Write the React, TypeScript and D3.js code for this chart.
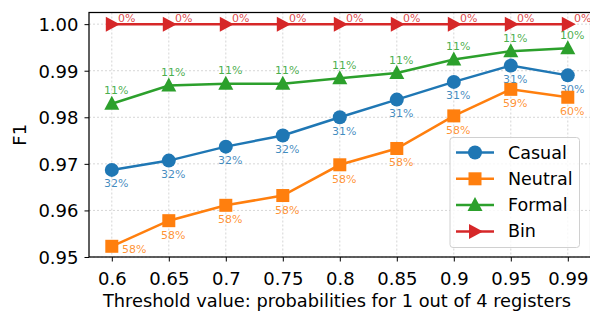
import { useEffect, useRef } from 'react';
import * as d3 from 'd3';

const thresholds = ['0.6', '0.65', '0.7', '0.75', '0.8', '0.85', '0.9', '0.95', '0.99'];
const casual = [0.9687, 0.9707, 0.9737, 0.9761, 0.98, 0.9838, 0.9876, 0.9911, 0.989];
const neutral = [0.9523, 0.9578, 0.9611, 0.9632, 0.9698, 0.9733, 0.9803, 0.986, 0.9843];
const formal = [0.9829, 0.9868, 0.9872, 0.9872, 0.9884, 0.9895, 0.9924, 0.9942, 0.9948];
const bin = [1.0, 1.0, 1.0, 1.0, 1.0, 1.0, 1.0, 1.0, 1.0];
const casualPct = ['32%', '32%', '32%', '32%', '31%', '31%', '31%', '31%', '30%'];
const neutralPct = ['58%', '58%', '58%', '58%', '58%', '58%', '58%', '59%', '60%'];
const formalPct = ['11%', '11%', '11%', '11%', '11%', '11%', '11%', '11%', '10%'];
const binPct = ['0%', '0%', '0%', '0%', '0%', '0%', '0%', '0%', '0%'];
const yTicks = [0.95, 0.96, 0.97, 0.98, 0.99, 1.0];

const series = [
  { name: 'Casual', values: casual, pct: casualPct, color: '#1f77b4', marker: 'circle', dx: 4.5, dy: 14 },
  { name: 'Neutral', values: neutral, pct: neutralPct, color: '#ff7f0e', marker: 'square', dx: 4.5, dy: 14.5 },
  { name: 'Formal', values: formal, pct: formalPct, color: '#2ca02c', marker: 'triangle', dx: 4.5, dy: -13 },
  { name: 'Bin', values: bin, pct: binPct, color: '#d62728', marker: 'right', dx: 15, dy: -6 },
];

function drawMarker(g: any, type: string, x: number, y: number, color: string) {
  if (type === 'circle') {
    g.append('circle').attr('cx', x).attr('cy', y).attr('r', 7).attr('fill', color);
  } else if (type === 'square') {
    g.append('rect').attr('x', x - 6.5).attr('y', y - 6.5).attr('width', 13).attr('height', 13).attr('fill', color);
  } else if (type === 'triangle') {
    g.append('path')
      .attr('d', `M${x},${y - 8} L${x + 7.5},${y + 6} L${x - 7.5},${y + 6} Z`)
      .attr('fill', color);
  } else {
    g.append('path')
      .attr('d', `M${x + 8},${y} L${x - 6},${y - 7.5} L${x - 6},${y + 7.5} Z`)
      .attr('fill', color);
  }
}

export default function App() {
  const svgRef = useRef<SVGSVGElement>(null);

  useEffect(() => {
    if (!svgRef.current) return;
    const svg = d3.select(svgRef.current);
    svg.selectAll('*').remove();

    const left = 89;
    const right = 590.6;
    const top = 12.5;
    const bottom = 257;
    const font = 'DejaVu Sans, sans-serif';

    const x = d3.scaleLinear().domain([-0.4, thresholds.length - 1 + 0.4]).range([left, right]);
    const y = d3.scaleLinear().domain([0.95, 1.0025]).range([bottom, top]);
    const idx = thresholds.map((_, i) => i);

    // grid
    const grid = svg.append('g');
    idx.forEach((i) => {
      grid.append('line')
        .attr('x1', x(i)).attr('x2', x(i)).attr('y1', top).attr('y2', bottom)
        .attr('stroke', '#cccccc').attr('stroke-width', 0.8).attr('stroke-dasharray', '2,2');
    });
    yTicks.forEach((t) => {
      grid.append('line')
        .attr('x1', left).attr('x2', right).attr('y1', y(t)).attr('y2', y(t))
        .attr('stroke', '#cccccc').attr('stroke-width', 0.8).attr('stroke-dasharray', '2,2');
    });

    // axes
    const xAxis = svg.append('g')
      .attr('transform', `translate(0,${bottom})`)
      .call(d3.axisBottom(x).tickValues(idx).tickFormat((d: any) => thresholds[d]).tickSize(4.5).tickSizeOuter(0));
    const yAxis = svg.append('g')
      .attr('transform', `translate(${left},0)`)
      .call(d3.axisLeft(y).tickValues(yTicks).tickFormat(d3.format('.2f')).tickSize(4.5).tickSizeOuter(0));
    [xAxis, yAxis].forEach((a) => {
      a.select('.domain').remove();
      a.selectAll('line').attr('stroke', '#000').attr('stroke-width', 1);
      a.selectAll('text').attr('font-family', font).attr('font-size', 18).attr('fill', '#000');
    });
    xAxis.selectAll('text').attr('dy', null).attr('y', 21).attr('dominant-baseline', 'central');
    yAxis.selectAll('text').attr('x', -10.5).attr('dy', null).attr('dominant-baseline', 'central');

    // frame
    svg.append('rect')
      .attr('x', left).attr('y', top).attr('width', right - left).attr('height', bottom - top)
      .attr('fill', 'none').attr('stroke', '#000').attr('stroke-width', 1.25);

    // lines, markers and labels
    series.forEach((s) => {
      const g = svg.append('g');
      const line = d3.line<number>().x((_, i) => x(i)).y((d) => y(d));
      g.append('path').datum(s.values).attr('d', line)
        .attr('fill', 'none').attr('stroke', s.color).attr('stroke-width', 2.5);
      s.values.forEach((v, i) => drawMarker(g, s.marker, x(i), y(v), s.color));
      s.values.forEach((v, i) => {
        let dx = s.dx;
        let dy = s.dy;
        if (s.name === 'Neutral' && i === 0) {
          dx = 22.5;
          dy = 3;
        }
        g.append('text')
          .attr('x', x(i) + dx).attr('y', y(v) + dy)
          .attr('text-anchor', 'middle').attr('dominant-baseline', 'central')
          .attr('font-family', font).attr('font-size', 11)
          .attr('fill', s.color).attr('fill-opacity', 0.85)
          .text(s.pct[i]);
      });
    });

    // axis labels
    svg.append('text')
      .attr('x', 337).attr('y', 300.5)
      .attr('text-anchor', 'middle').attr('dominant-baseline', 'central')
      .attr('font-family', font).attr('font-size', 17.8)
      .text('Threshold value: probabilities for 1 out of 4 registers');
    svg.append('text')
      .attr('transform', `translate(19,${(top + bottom) / 2}) rotate(-90)`)
      .attr('text-anchor', 'middle').attr('dominant-baseline', 'central')
      .attr('font-family', font).attr('font-size', 18)
      .text('F1');

    // legend
    const lg = svg.append('g');
    lg.append('rect')
      .attr('x', 450).attr('y', 137.5).attr('width', 129.5).attr('height', 110)
      .attr('rx', 3).attr('fill', 'white').attr('fill-opacity', 0.8)
      .attr('stroke', '#d0d0d0').attr('stroke-width', 1);
    series.forEach((s, i) => {
      const ly = 152.5 + i * 26.3;
      lg.append('line').attr('x1', 456).attr('x2', 494).attr('y1', ly).attr('y2', ly)
        .attr('stroke', s.color).attr('stroke-width', 2.5);
      drawMarker(lg, s.marker, 475, ly, s.color);
      lg.append('text').attr('x', 508).attr('y', ly)
        .attr('dominant-baseline', 'central')
        .attr('font-family', font).attr('font-size', 17.5).attr('fill', '#000')
        .text(s.name);
    });
  }, []);

  return (
    <svg ref={svgRef} width={590} height={311} style={{ position: 'absolute', left: 0, top: 0 }} />
  );
}
